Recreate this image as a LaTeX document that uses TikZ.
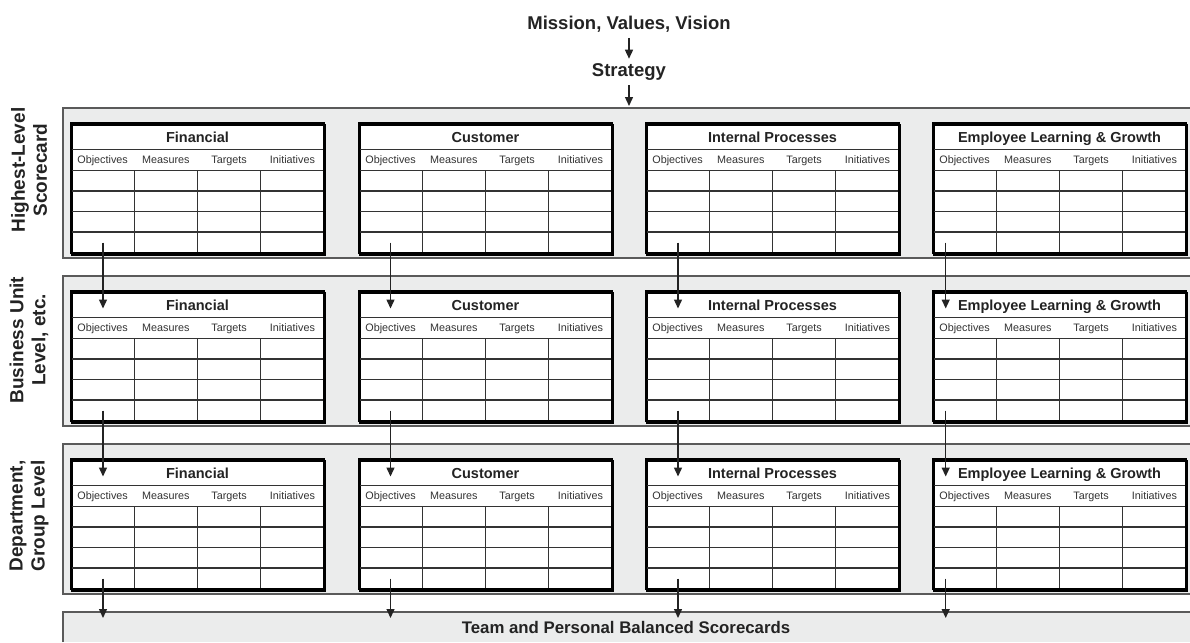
\documentclass[tikz,border=0pt]{standalone}
\usepackage{fontspec}
\setmainfont{Liberation Sans}
\usetikzlibrary{arrows.meta}
\definecolor{bandfill}{HTML}{EBECEC}
\definecolor{bandline}{HTML}{5A5A5A}
\definecolor{ink}{HTML}{232323}
\definecolor{grid}{HTML}{333333}
\begin{document}
\begin{tikzpicture}[x=1pt,y=-1pt,
  flow/.style={line width=1.4pt, draw=ink, -{Triangle[length=9pt,width=8pt]}},
  bandedge/.style={draw=bandline, line width=1.1pt},
  tablebox/.style={draw=black, line width=2.3pt, fill=white, anchor=north west,
    minimum width=253pt, minimum height=130pt, inner sep=0pt},
  gridline/.style={draw=grid, line width=1.1pt},
  ttltext/.style={font=\bfseries\fontsize{14.5}{16}\selectfont, text=ink, inner sep=0pt,
    text height=10.5pt, text depth=3pt},
  headtext/.style={font=\fontsize{10.8}{12}\selectfont, text=grid, inner sep=0pt,
    text height=7.8pt, text depth=2.2pt},
  bigtext/.style={font=\bfseries\fontsize{18.5}{21}\selectfont, text=ink,
    text height=13.5pt, text depth=4pt},
  sidetext/.style={font=\bfseries\fontsize{19}{22}\selectfont, text=ink, rotate=90, align=center, inner sep=0pt},
  teamtext/.style={font=\bfseries\fontsize{16.8}{19}\selectfont, text=ink, inner sep=0pt,
    text height=12pt, text depth=3.5pt}]
\useasboundingbox (0,0) rectangle (1190,642);

% grey level bands, open at the right edge
\foreach \t in {108,276,444} {
  \fill[bandfill] (63,\t) rectangle (1190,\t+150);
  \draw[bandedge] (1190,\t) -- (63,\t) -- (63,\t+150) -- (1190,\t+150);
}
\fill[bandfill] (63,612) rectangle (1190,642);
\draw[bandedge] (63,642) -- (63,612) -- (1190,612);
\node[teamtext] (team) at (626,629.5) {Team and Personal Balanced Scorecards};

% level labels
\node[sidetext] (lvl1) at (29,170) {Highest-Level\\Scorecard};
\node[sidetext] (lvl2) at (29,340) {Business Unit\\Level, etc.};
\node[sidetext] (lvl3) at (29,516) {Department,\\Group Level};

% scorecard tables
\foreach \b/\t in {1/108,2/276,3/444} {
  \foreach \k/\L/\dx/\ttl in {1/71/32/Financial, 2/359/31.5/Customer,
      3/646/32/Internal Processes, 4/933/12.7/Employee Learning \& Growth} {
    \pgfmathsetmacro{\T}{\t+15.5}
    \node[tablebox] (tb-\b-\k) at (\L,\T) {};
    \draw[gridline] (\L,\T+26) -- (\L+253,\T+26);
    \draw[gridline] (\L,\T+47) -- (\L+253,\T+47);
    \foreach \r in {67.5,88,108.5}
      \draw[gridline] (\L,\T+\r) -- (\L+253,\T+\r);
    \foreach \c in {1,2,3}
      \draw[gridline] (\L+63.25*\c,\T+47) -- (\L+63.25*\c,\T+129);
    \draw[draw=black, line width=2.3pt] (\L,\T) rectangle (\L+253,\T+129.5);
    \node[ttltext] (ttl-\b-\k) at (\L+126.5,\T+15) {\ttl};
    \node[headtext] (obj-\b-\k) at (\L+31.6,\T+37.5) {Objectives};
    \node[headtext] (mea-\b-\k) at (\L+94.9,\T+37.5) {Measures};
    \node[headtext] (tar-\b-\k) at (\L+158.1,\T+37.5) {Targets};
    \node[headtext] (ini-\b-\k) at (\L+221.4,\T+37.5) {Initiatives};
    \coordinate (out-\b-\k) at (\L+\dx,\T+119);
    \coordinate (in-\b-\k) at (\L+\dx,\T+17);
    \coordinate (down-\b-\k) at (\L+\dx,618);
  }
}

% cascade arrows between levels
\foreach \k in {1,2,3,4} {
  \draw[flow] (out-1-\k) -- (in-2-\k);
  \draw[flow] (out-2-\k) -- (in-3-\k);
  \draw[flow] (out-3-\k) -- (down-3-\k);
}

% mission and strategy at the top
\node[bigtext] (mission) at (629,24.5) {Mission, Values, Vision};
\node[bigtext] (strategy) at (629,72) {Strategy};
\coordinate (bandtop) at (629,106);
\draw[flow] ([yshift=-1pt]mission.south) -- ([yshift=1pt]strategy.north);
\draw[flow] ([yshift=-1pt]strategy.south) -- (bandtop);
\end{tikzpicture}
\end{document}
